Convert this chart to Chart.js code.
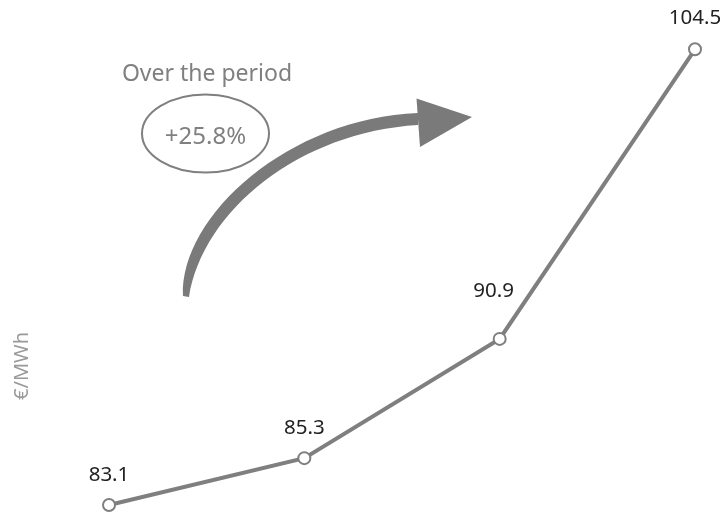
<!DOCTYPE html>
<html>
<head>
<meta charset="utf-8">
<script src="https://cdn.jsdelivr.net/npm/chart.js@4"></script>
<style>
  html, body { margin: 0; padding: 0; background: #ffffff; }
  #wrap { width: 723px; height: 513px; }
</style>
</head>
<body>
<div id="wrap"><canvas id="priceChart" width="723" height="513"></canvas></div>
<script>
// data
const periods = ['P1', 'P2', 'P3', 'P4'];
const prices = [83.1, 85.3, 90.9, 104.5];
const unitLabel = '€/MWh';
const noteTitle = 'Over the period';
const noteValue = '+25.8%';

const lineGrey = '#7f7f7f';
const fontFamily = '"Noto Sans", "Open Sans", sans-serif';
// label nudges (px), the third one sits clear of the line
const labelLift = [24, 24, 42, 25];
const labelShift = [0, 0, -6, 0];

// value labels above every point
const valueLabels = {
    id: 'valueLabels',
    afterDatasetsDraw(chart) {
        const ctx = chart.ctx;
        const meta = chart.getDatasetMeta(0);
        ctx.save();
        ctx.fillStyle = '#222222';
        ctx.font = '20.5px ' + fontFamily;
        ctx.textAlign = 'center';
        ctx.textBaseline = 'alphabetic';
        meta.data.forEach((pt, i) => {
            ctx.fillText(prices[i].toFixed(1), pt.x + labelShift[i], pt.y - labelLift[i]);
        });
        ctx.restore();
    }
};

// unit title, note and the curved arrow
const decorations = {
    id: 'decorations',
    afterDraw(chart) {
        const ctx = chart.ctx;
        ctx.save();

        // y title
        ctx.translate(22, 366);
        ctx.rotate(-Math.PI / 2);
        ctx.fillStyle = '#9a9a9a';
        ctx.font = '20px ' + fontFamily;
        ctx.textAlign = 'center';
        ctx.textBaseline = 'middle';
        ctx.fillText(unitLabel, 0, 0);
        ctx.restore();

        ctx.save();
        ctx.fillStyle = '#808080';
        ctx.textAlign = 'center';
        ctx.textBaseline = 'alphabetic';
        ctx.font = '23px ' + fontFamily;
        ctx.fillText(noteTitle, 207, 81);

        // ellipse with the change
        ctx.strokeStyle = '#7f7f7f';
        ctx.lineWidth = 2;
        ctx.beginPath();
        ctx.ellipse(205.5, 133.5, 63.5, 39, 0, 0, Math.PI * 2);
        ctx.stroke();
        ctx.font = '24px ' + fontFamily;
        ctx.fillText(noteValue, 205.5, 144);

        // arrow body
        ctx.fillStyle = '#7a7a7a';
        ctx.beginPath();
        ctx.moveTo(183, 296);
        ctx.bezierCurveTo(180, 215, 290, 118, 418, 113);
        ctx.lineTo(418, 125);
        ctx.bezierCurveTo(300, 132, 203, 210, 189, 297);
        ctx.closePath();
        ctx.fill();

        // arrow head
        ctx.beginPath();
        ctx.moveTo(416.5, 98.5);
        ctx.lineTo(472, 117);
        ctx.lineTo(420, 147);
        ctx.closePath();
        ctx.fill();
        ctx.restore();
    }
};

new Chart(document.getElementById('priceChart'), {
    type: 'line',
    data: {
        labels: periods,
        datasets: [{
            data: prices,
            borderColor: lineGrey,
            borderWidth: 4,
            tension: 0,
            fill: false,
            clip: false,
            pointRadius: 6,
            pointBorderWidth: 2,
            pointBorderColor: lineGrey,
            pointBackgroundColor: '#ffffff'
        }]
    },
    options: {
        responsive: false,
        animation: false,
        layout: {
            padding: { left: 109, right: 28, top: 49.3, bottom: 7.3 }
        },
        plugins: {
            legend: { display: false },
            tooltip: { enabled: false }
        },
        scales: {
            x: { display: false, offset: false },
            y: { display: false, min: 83.1, max: 104.5 }
        }
    },
    plugins: [valueLabels, decorations]
});
</script>
</body>
</html>
